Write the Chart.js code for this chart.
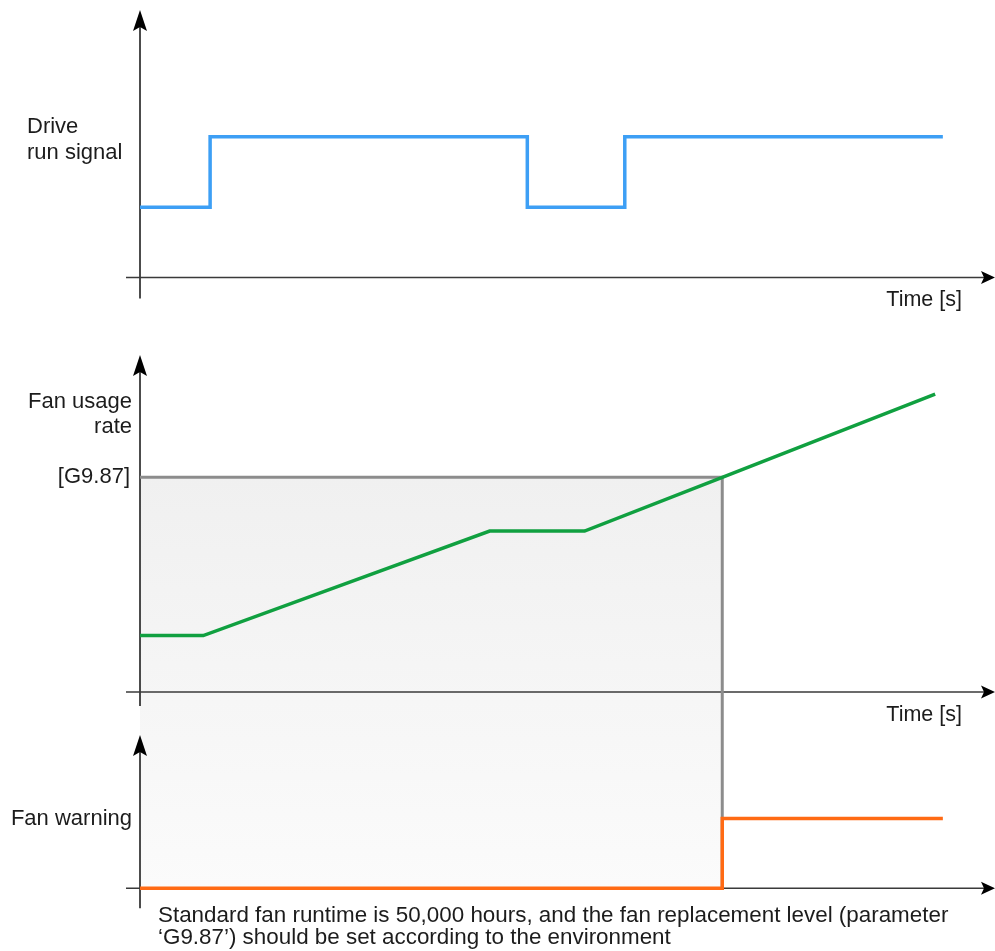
<!DOCTYPE html>
<html>
<head>
<meta charset="utf-8">
<script src="https://cdn.jsdelivr.net/npm/chart.js@4/dist/chart.umd.min.js"></script>
<style>
  html, body { margin: 0; padding: 0; background: #fff; }
  #wrap { position: relative; width: 995px; height: 951px; }
</style>
</head>
<body>
<div id="wrap"><canvas id="fanChart"></canvas></div>
<script>
// Drive run signal: time of each change and the level after it (1 = stopped, 2 = running)
const runTimes  = [0, 8.2, 45.3, 56.7, 93.9];
const runLevels = [1, 2, 1, 2, 2];

// Fan usage rate over time (replacement level G9.87 = 100)
const usageTimes = [0, 7.4, 40.9, 52.0, 68.1, 93.0];
const usageRates = [26.3, 26.3, 75.0, 75.0, 100, 138.8];
const replacementLevel = 100;

// Fan warning output: 0 = off, 1 = on
const warnTimes  = [0, 68.1, 93.9];
const warnLevels = [0, 1, 1];

// Text
const runLabel   = ['Drive', 'run signal'];
const usageLabel = ['Fan usage', 'rate'];
const levelLabel = '[G9.87]';
const warnLabel  = 'Fan warning';
const timeLabel  = 'Time [s]';
const noteLines  = [
  'Standard fan runtime is 50,000 hours, and the fan replacement level (parameter',
  '\u2018G9.87\u2019) should be set according to the environment'
];

const toPoints = (xs, ys) => xs.map((t, i) => ({ x: t, y: ys[i] }));
const warnStart = warnTimes[warnLevels.indexOf(1)];

const FAMILY = '"Liberation Sans", Arial, Helvetica, sans-serif';
const TEXT = '#1c1c1c';

function arrowUp(ctx, x, tip) {
  ctx.beginPath();
  ctx.moveTo(x, tip);
  ctx.lineTo(x + 7, tip + 21);
  ctx.lineTo(x, tip + 17);
  ctx.lineTo(x - 7, tip + 21);
  ctx.closePath();
  ctx.fill();
}
function arrowRight(ctx, tip, y) {
  ctx.beginPath();
  ctx.moveTo(tip, y);
  ctx.lineTo(tip - 14, y - 6.5);
  ctx.lineTo(tip - 11, y);
  ctx.lineTo(tip - 14, y + 6.5);
  ctx.closePath();
  ctx.fill();
}

const diagram = {
  id: 'diagram',
  beforeDatasetsDraw(chart) {
    const { ctx, chartArea: a, scales } = chart;
    const { x, yRun, yUsage, yWarn } = scales;
    const xs = x.getPixelForValue(warnStart);
    const yLevel = yUsage.getPixelForValue(replacementLevel);
    const yBase = yWarn.getPixelForValue(0);

    ctx.save();
    // shaded region below the replacement level until the warning
    const g = ctx.createLinearGradient(0, yLevel, 0, yBase);
    g.addColorStop(0, '#f0f0f0');
    g.addColorStop(1, '#fbfbfb');
    ctx.fillStyle = g;
    ctx.fillRect(a.left, yLevel, xs - a.left, yBase - yLevel);

    // panel axes with arrow heads
    const panels = [[yRun, 21], [yUsage, 14], [yWarn, 20]];
    panels.forEach(([s, ext]) => {
      const y0 = s.getPixelForValue(0);
      ctx.strokeStyle = '#111';
      ctx.lineWidth = 1.5;
      ctx.beginPath();
      ctx.moveTo(a.left, s.top + 16);
      ctx.lineTo(a.left, y0 + ext);
      ctx.stroke();
      ctx.strokeStyle = '#3a3a3a';
      ctx.beginPath();
      ctx.moveTo(a.left - 14, y0);
      ctx.lineTo(a.right - 10, y0);
      ctx.stroke();
      ctx.fillStyle = '#000';
      arrowUp(ctx, a.left, s.top);
      arrowRight(ctx, a.right, y0);
    });

    // replacement level marker
    ctx.strokeStyle = '#8c8c8c';
    ctx.lineWidth = 3;
    ctx.lineJoin = 'miter';
    ctx.beginPath();
    ctx.moveTo(a.left, yLevel);
    ctx.lineTo(xs, yLevel);
    ctx.lineTo(xs, yBase);
    ctx.stroke();
    ctx.restore();
  },
  afterDraw(chart) {
    const { ctx, scales } = chart;
    const { yRun, yUsage, yWarn } = scales;
    ctx.save();
    ctx.font = '22px ' + FAMILY;
    ctx.fillStyle = TEXT;
    ctx.textBaseline = 'middle';

    ctx.textAlign = 'left';
    ctx.fillText(runLabel[0], 27, 127);
    ctx.fillText(runLabel[1], 27, 153);

    ctx.textAlign = 'right';
    ctx.fillText(usageLabel[0], 132, 402);
    ctx.fillText(usageLabel[1], 132, 427);
    ctx.fillText(levelLabel, 130, yUsage.getPixelForValue(replacementLevel));
    ctx.fillText(warnLabel, 132, yWarn.getPixelForValue(1));

    ctx.font = '21.5px ' + FAMILY;
    ctx.fillText(timeLabel, 962, yRun.getPixelForValue(0) + 23);
    ctx.fillText(timeLabel, 962, yUsage.getPixelForValue(0) + 23);

    ctx.textAlign = 'left';
    ctx.font = '22.4px ' + FAMILY;
    ctx.fillText(noteLines[0], 158, 916);
    ctx.fillText(noteLines[1], 158, 938);
    ctx.restore();
  }
};

const lineStyle = { pointRadius: 0, borderWidth: 3.5, fill: false, tension: 0 };

new Chart(document.getElementById('fanChart'), {
  type: 'line',
  data: {
    datasets: [
      Object.assign({ label: 'Drive run signal', data: toPoints(runTimes, runLevels),
        borderColor: '#3d9ff5', stepped: 'before', yAxisID: 'yRun' }, lineStyle),
      Object.assign({ label: 'Fan usage rate', data: toPoints(usageTimes, usageRates),
        borderColor: '#10a040', yAxisID: 'yUsage' }, lineStyle),
      Object.assign({ label: 'Fan warning', data: toPoints(warnTimes, warnLevels),
        borderColor: '#ff6a14', stepped: 'before', yAxisID: 'yWarn' }, lineStyle)
    ]
  },
  options: {
    responsive: true,
    maintainAspectRatio: false,
    animation: false,
    events: [],
    layout: { padding: { left: 140, right: 0, top: 10, bottom: 0 } },
    plugins: { legend: { display: false }, tooltip: { enabled: false } },
    scales: {
      x: { type: 'linear', min: 0, max: 100, display: false },
      yRun:   { type: 'linear', min: -1.1, max: 3.8, display: false, position: 'left',
                stack: 'panels', stackWeight: 345, weight: 3 },
      yUsage: { type: 'linear', min: -20, max: 157, display: false, position: 'left',
                stack: 'panels', stackWeight: 380, weight: 2 },
      yWarn:  { type: 'linear', min: -0.9, max: 2.2, display: false, position: 'left',
                stack: 'panels', stackWeight: 216, weight: 1 }
    }
  },
  plugins: [diagram]
});
</script>
</body>
</html>
